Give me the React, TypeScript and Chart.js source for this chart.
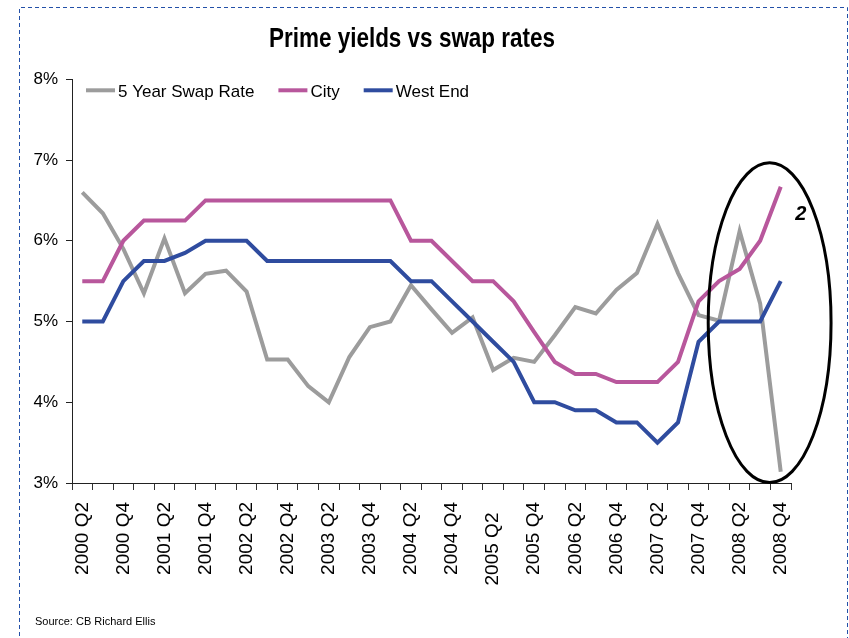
import React, { useEffect, useRef } from "react";
import { Chart, registerables } from "chart.js";

Chart.register(...registerables);

const categories = [
  "2000 Q2", "2000 Q3", "2000 Q4", "2001 Q1", "2001 Q2", "2001 Q3", "2001 Q4",
  "2002 Q1", "2002 Q2", "2002 Q3", "2002 Q4", "2003 Q1", "2003 Q2", "2003 Q3",
  "2003 Q4", "2004 Q1", "2004 Q2", "2004 Q3", "2004 Q4", "2005 Q1", "2005 Q2",
  "2005 Q3", "2005 Q4", "2006 Q1", "2006 Q2", "2006 Q3", "2006 Q4", "2007 Q1",
  "2007 Q2", "2007 Q3", "2007 Q4", "2008 Q1", "2008 Q2", "2008 Q3", "2008 Q4",
];

const swapRate = [
  6.6, 6.34, 5.9, 5.35, 6.03, 5.35, 5.59, 5.63, 5.37, 4.53,
  4.53, 4.2, 4.0, 4.56, 4.93, 5.0, 5.45, 5.15, 4.86, 5.05,
  4.4, 4.55, 4.5, 4.83, 5.18, 5.1, 5.39, 5.6, 6.21, 5.6,
  5.08, 5.01, 6.12, 5.22, 3.14,
];

const city = [
  5.5, 5.5, 6.0, 6.25, 6.25, 6.25, 6.5, 6.5, 6.5, 6.5,
  6.5, 6.5, 6.5, 6.5, 6.5, 6.5, 6.0, 6.0, 5.75, 5.5,
  5.5, 5.25, 4.87, 4.5, 4.35, 4.35, 4.25, 4.25, 4.25, 4.5,
  5.25, 5.5, 5.65, 6.0, 6.67,
];

const westEnd = [
  5.0, 5.0, 5.5, 5.75, 5.75, 5.85, 6.0, 6.0, 6.0, 5.75,
  5.75, 5.75, 5.75, 5.75, 5.75, 5.75, 5.5, 5.5, 5.25, 5.0,
  4.75, 4.5, 4.0, 4.0, 3.9, 3.9, 3.75, 3.75, 3.5, 3.75,
  4.75, 5.0, 5.0, 5.0, 5.5,
];

const yTicks = [3, 4, 5, 6, 7, 8];

const titleText = "Prime yields vs swap rates";
const sourceText = "Source: CB Richard Ellis";

// Annotation (ellipse around the last quarters) in data units
const ellipseCenterIndex = 33.46;
const ellipseCenterValue = 4.985;
const ellipseHalfWidth = 2.99;
const ellipseHalfHeight = 1.98;
const noteIndex = 34.98;
const noteValue = 6.32;
const noteText = "2";

const FONT = '"Liberation Sans", Arial, sans-serif';

const frameAndTextPlugin = {
  id: "frameAndText",
  beforeDraw(chart: any) {
    const { ctx } = chart;
    ctx.save();
    ctx.fillStyle = "#ffffff";
    ctx.fillRect(0, 0, chart.width, chart.height);
    ctx.strokeStyle = "#2350a8";
    ctx.lineWidth = 1;
    ctx.setLineDash([4, 3]);
    ctx.beginPath();
    ctx.moveTo(19.5, chart.height + 5);
    ctx.lineTo(19.5, 7.5);
    ctx.lineTo(847.5, 7.5);
    ctx.lineTo(847.5, chart.height + 5);
    ctx.stroke();
    ctx.restore();
  },
  afterDraw(chart: any) {
    const { ctx } = chart;
    ctx.save();
    // title, horizontally condensed like the original narrow face
    ctx.fillStyle = "#000";
    ctx.font = "bold 28px " + FONT;
    ctx.textBaseline = "alphabetic";
    ctx.textAlign = "center";
    const sx = 0.803;
    ctx.translate(412, 46.7);
    ctx.scale(sx, 1);
    ctx.fillText(titleText, 0, 0);
    ctx.restore();

    ctx.save();
    ctx.fillStyle = "#000";
    ctx.font = "11px " + FONT;
    ctx.textBaseline = "middle";
    ctx.textAlign = "left";
    ctx.fillText(sourceText, 35, 622);
    ctx.restore();
  },
};

const legendPlugin = {
  id: "customLegend",
  afterDatasetsDraw(chart: any) {
    const { ctx, chartArea } = chart;
    ctx.save();
    ctx.font = "17px " + FONT;
    ctx.textBaseline = "middle";
    ctx.textAlign = "left";
    let x = chartArea.left + 14;
    const yLine = chartArea.top + 11;
    chart.data.datasets.forEach((ds: any) => {
      ctx.strokeStyle = ds.borderColor;
      ctx.lineWidth = 4;
      ctx.setLineDash([]);
      ctx.beginPath();
      ctx.moveTo(x, yLine);
      ctx.lineTo(x + 29, yLine);
      ctx.stroke();
      ctx.fillStyle = "#000";
      ctx.fillText(ds.label, x + 32, yLine + 2.5);
      x += 32 + ctx.measureText(ds.label).width + 24;
    });
    ctx.restore();
  },
};

const ellipsePlugin = {
  id: "ellipseNote",
  afterDatasetsDraw(chart: any) {
    const { ctx } = chart;
    const xs = chart.scales.x;
    const ys = chart.scales.y;
    const cx = xs.getPixelForValue(ellipseCenterIndex);
    const cy = ys.getPixelForValue(ellipseCenterValue);
    const rx = xs.getPixelForValue(ellipseCenterIndex + ellipseHalfWidth) - cx;
    const ry = cy - ys.getPixelForValue(ellipseCenterValue + ellipseHalfHeight);
    ctx.save();
    ctx.strokeStyle = "#000";
    ctx.lineWidth = 3;
    ctx.beginPath();
    ctx.ellipse(cx, cy, Math.abs(rx), Math.abs(ry), 0, 0, Math.PI * 2);
    ctx.stroke();
    ctx.fillStyle = "#000";
    ctx.font = "italic bold 20px " + FONT;
    ctx.textAlign = "center";
    ctx.textBaseline = "middle";
    ctx.fillText(noteText, xs.getPixelForValue(noteIndex), ys.getPixelForValue(noteValue));
    ctx.restore();
  },
};

export default function App() {
  const canvasRef = useRef<HTMLCanvasElement | null>(null);

  useEffect(() => {
    if (!canvasRef.current) return;
    const chart = new Chart(canvasRef.current, {
      type: "line",
      data: {
        labels: categories,
        datasets: [
          {
            label: "5 Year Swap Rate",
            data: swapRate,
            borderColor: "#9c9c9c",
            backgroundColor: "#9c9c9c",
            borderWidth: 4,
            pointRadius: 0,
            tension: 0,
            order: 3,
          },
          {
            label: "City",
            data: city,
            borderColor: "#b8579c",
            backgroundColor: "#b8579c",
            borderWidth: 4,
            pointRadius: 0,
            tension: 0,
            order: 2,
          },
          {
            label: "West End",
            data: westEnd,
            borderColor: "#2f4c9f",
            backgroundColor: "#2f4c9f",
            borderWidth: 4,
            pointRadius: 0,
            tension: 0,
            order: 1,
          },
        ],
      },
      options: {
        responsive: false,
        animation: false,
        layout: { padding: { left: 33, right: 58, top: 79.3, bottom: 0 } },
        plugins: {
          legend: { display: false },
          tooltip: { enabled: false },
          title: { display: false },
        },
        scales: {
          x: {
            type: "category",
            offset: true,
            grid: {
              offset: true,
              drawOnChartArea: false,
              drawTicks: true,
              tickLength: 7,
              color: "#333",
            },
            border: { color: "#222", width: 1 },
            ticks: {
              autoSkip: false,
              maxRotation: 90,
              minRotation: 90,
              padding: 12,
              color: "#000",
              font: { family: FONT, size: 19 },
              callback: function (this: any, _v: any, idx: number) {
                if (idx % 2 !== 0) return "";
                const lab = categories[idx];
                return lab === "2005 Q2" ? lab + "  " : lab;
              },
            },
            afterFit: (scale: any) => {
              scale.height = 155;
            },
          },
          y: {
            min: yTicks[0],
            max: yTicks[yTicks.length - 1],
            grid: {
              drawOnChartArea: false,
              drawTicks: true,
              tickLength: 6,
              color: "#222",
            },
            border: { color: "#222", width: 1 },
            ticks: {
              stepSize: 1,
              padding: 8,
              color: "#000",
              font: { family: FONT, size: 17 },
              callback: (v: any) => `${v}%`,
            },
            afterFit: (scale: any) => {
              scale.width = 39;
            },
          },
        },
      },
      plugins: [frameAndTextPlugin, legendPlugin, ellipsePlugin],
    } as any);
    return () => chart.destroy();
  }, []);

  return (
    <div style={{ position: "absolute", left: 0, top: 0, width: 849, height: 638, background: "#fff" }}>
      <canvas ref={canvasRef} width={849} height={638} />
    </div>
  );
}
